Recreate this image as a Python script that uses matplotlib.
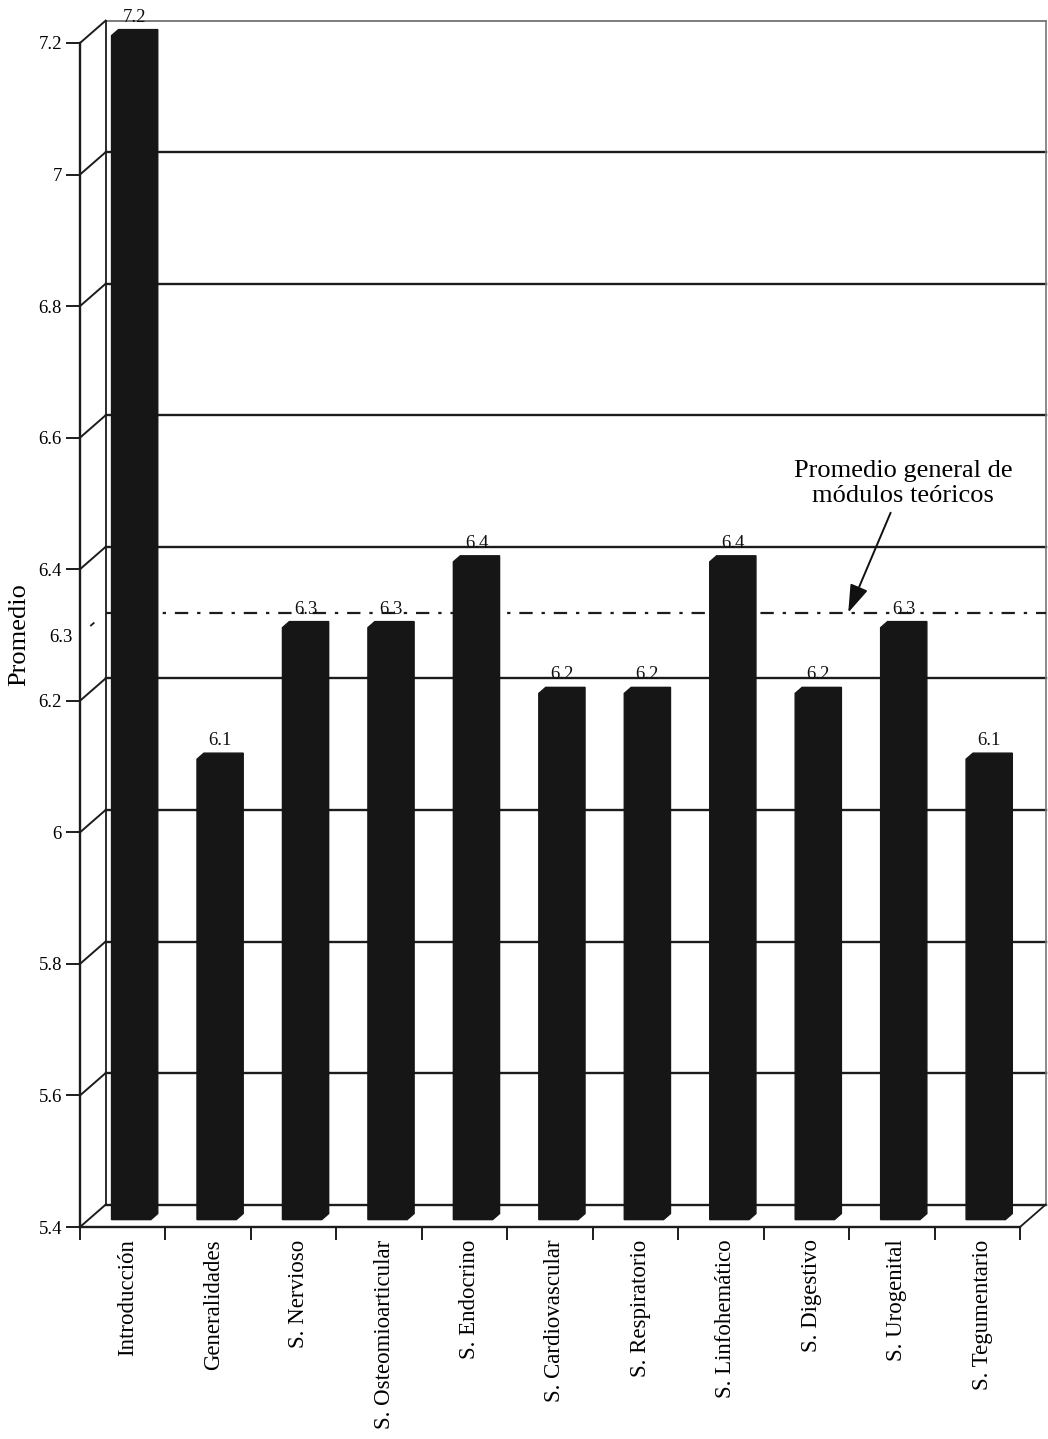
#!/usr/bin/env python3
"""
Bar chart of the average grade per theoretical module, drawn with a
pseudo-3D box (back wall, floor, side wall) in the style of old
spreadsheet charts.

Output:
    out.png
"""

import numpy as np
import matplotlib.pyplot as plt
from matplotlib.ticker import FixedLocator, NullFormatter
from matplotlib.transforms import ScaledTranslation


# ============================================================
# Data
# ============================================================

categories = [
    "Introducción",
    "Generalidades",
    "S. Nervioso",
    "S. Osteomioarticular",
    "S. Endocrino",
    "S. Cardiovascular",
    "S. Respiratorio",
    "S. Linfohemático",
    "S. Digestivo",
    "S. Urogenital",
    "S. Tegumentario",
]
values = [7.2, 6.1, 6.3, 6.3, 6.4, 6.2, 6.2, 6.4, 6.2, 6.3, 6.1]

general_mean = 6.3
mean_label = "Promedio general de\nmódulos teóricos"

y_ticks = [5.4, 5.6, 5.8, 6.0, 6.2, 6.4, 6.6, 6.8, 7.0, 7.2]
y_tick_labels = ["5.4", "5.6", "5.8", "6", "6.2", "6.4", "6.6", "6.8", "7", "7.2"]


# ============================================================
# Geometry of the fake 3D box (data units)
# ============================================================

Y_MIN, Y_MAX = 5.4, 7.2
DEPTH_X = 0.30       # horizontal shift of the back wall [categories]
DEPTH_Y = 0.034      # vertical shift of the back wall [value units]
BAR_WIDTH = 0.46
BAR_FRONT = 0.33     # depth fraction of the bar front face
BAR_BACK = 0.60      # depth fraction of the bar back face

BAR_COLOR = "#161616"
LINE_COLOR = "#1c1c1c"

plt.rcParams["font.family"] = ["Liberation Serif", "DejaVu Serif"]


def draw_box(ax, n):
    left = -0.5
    right = n - 0.5

    # back wall gridlines, also floor back edge and wall top
    for v in y_ticks:
        top = v == Y_MAX
        ax.plot([left + DEPTH_X, right + DEPTH_X], [v + DEPTH_Y, v + DEPTH_Y],
                color="#666666" if top else LINE_COLOR,
                lw=1.2 if top else 1.7, zorder=1, clip_on=False)
        # side wall links from the front axis to the back wall
        ax.plot([left, left + DEPTH_X], [v, v + DEPTH_Y],
                color=LINE_COLOR, lw=1.4, zorder=1, clip_on=False)

    # back wall edges
    ax.plot([left + DEPTH_X, left + DEPTH_X], [Y_MIN + DEPTH_Y, Y_MAX + DEPTH_Y],
            color=LINE_COLOR, lw=1.3, zorder=1, clip_on=False)
    ax.plot([right + DEPTH_X, right + DEPTH_X], [Y_MIN + DEPTH_Y, Y_MAX + DEPTH_Y],
            color="#777777", lw=1.2, zorder=1, clip_on=False)

    # floor right edge
    ax.plot([right, right + DEPTH_X], [Y_MIN, Y_MIN + DEPTH_Y],
            color=LINE_COLOR, lw=1.3, zorder=1, clip_on=False)

    # general mean, on the back wall and on the side wall
    ax.plot([left + DEPTH_X, right + DEPTH_X],
            [general_mean + DEPTH_Y, general_mean + DEPTH_Y],
            color=LINE_COLOR, lw=1.6, ls=(0, (6, 4, 1.5, 4)), zorder=1, clip_on=False)
    ax.plot([left + 0.12, left + DEPTH_X],
            [general_mean + DEPTH_Y * 0.12 / DEPTH_X, general_mean + DEPTH_Y],
            color=LINE_COLOR, lw=1.3, ls=(0, (3, 9)), zorder=1, clip_on=False)


def draw_bars(ax):
    fx, fy = BAR_FRONT * DEPTH_X, BAR_FRONT * DEPTH_Y
    ddx = (BAR_BACK - BAR_FRONT) * DEPTH_X
    ddy = (BAR_BACK - BAR_FRONT) * DEPTH_Y

    for i, v in enumerate(values):
        x0 = i - BAR_WIDTH / 2 + fx
        x1 = i + BAR_WIDTH / 2 + fx
        yb = Y_MIN + fy
        yt = v + fy
        xs = [x0, x1, x1 + ddx, x1 + ddx, x0 + ddx, x0]
        ys = [yb, yb, yb + ddy, yt + ddy, yt + ddy, yt]
        ax.fill(xs, ys, color=BAR_COLOR, zorder=3, clip_on=False)

        ax.text((x0 + x1) / 2 + ddx / 2, yt + ddy + 0.006, f"{v:.1f}",
                ha="center", va="bottom", fontsize=13.5, color="#111111",
                zorder=4, clip_on=False)


def main():
    n = len(categories)
    fig = plt.figure(figsize=(10.48, 14.39), dpi=100)
    ax = fig.add_axes([80 / 1048, 212 / 1439, 940 / 1048, 1184 / 1439])

    ax.set_xlim(-0.5, n - 0.5)
    ax.set_ylim(Y_MIN, Y_MAX)

    for side in ("top", "right"):
        ax.spines[side].set_visible(False)
    for side in ("left", "bottom"):
        ax.spines[side].set_linewidth(1.7)
        ax.spines[side].set_color(LINE_COLOR)

    draw_box(ax, n)
    draw_bars(ax)

    # y axis: regular ticks plus the mean value without a tick mark
    ax.yaxis.set_major_locator(FixedLocator(y_ticks))
    ax.set_yticklabels(y_tick_labels)
    ax.yaxis.set_minor_locator(FixedLocator([general_mean]))
    ax.set_yticklabels([f"{general_mean:.1f}"], minor=True)
    ax.tick_params(axis="y", which="major", direction="out", length=10,
                   width=1.4, pad=3, labelsize=13.5, color=LINE_COLOR)
    ax.tick_params(axis="y", which="minor", length=0, pad=5, labelsize=13.5)

    # x axis: tick marks between categories, names at the centres
    ax.xaxis.set_major_locator(FixedLocator(np.arange(n + 1) - 0.5))
    ax.xaxis.set_major_formatter(NullFormatter())
    ax.xaxis.set_minor_locator(FixedLocator(np.arange(n)))
    ax.set_xticklabels(categories, minor=True, rotation=90)
    ax.tick_params(axis="x", which="major", direction="out", length=9,
                   width=1.4, color=LINE_COLOR)
    ax.tick_params(axis="x", which="minor", length=0, pad=9, labelsize=16.5)
    shift = ScaledTranslation(5 / 100, 0, fig.dpi_scale_trans)
    for label in ax.xaxis.get_minorticklabels():
        label.set_transform(label.get_transform() + shift)

    ax.set_ylabel("Promedio", fontsize=19, labelpad=6)

    ax.annotate(
        mean_label,
        xy=(8.49, general_mean + DEPTH_Y),
        xytext=(9.13, 6.53),
        ha="center", va="center", fontsize=19, linespacing=1.2,
        arrowprops=dict(arrowstyle="-|>,head_length=0.9,head_width=0.3",
                        color="#111111", lw=1.4, shrinkA=2, shrinkB=0),
        zorder=5,
    )

    fig.savefig("out.png", dpi=100, facecolor="white")
    plt.close(fig)


if __name__ == "__main__":
    main()
